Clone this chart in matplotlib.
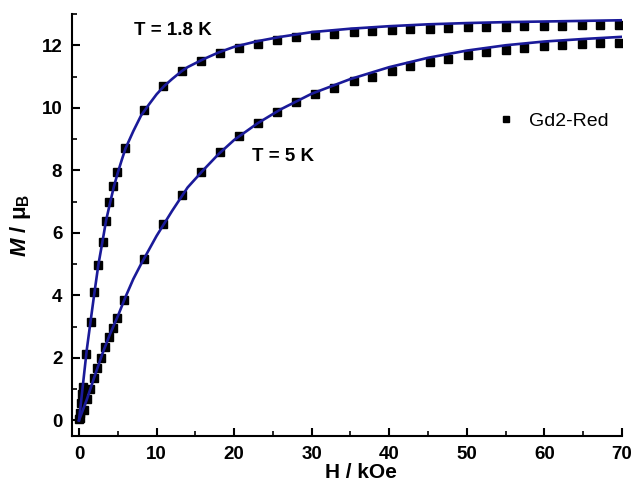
import numpy as np
import matplotlib
matplotlib.use('Agg')
import matplotlib.pyplot as plt
from matplotlib.ticker import MultipleLocator

plt.rcParams['font.family'] = 'Liberation Sans'
plt.rcParams['font.weight'] = 'bold'
plt.rcParams['mathtext.fontset'] = 'custom'
plt.rcParams['mathtext.rm'] = 'Liberation Sans:bold'
plt.rcParams['mathtext.it'] = 'Liberation Sans:italic:bold'
plt.rcParams['mathtext.bf'] = 'Liberation Sans:bold'

# measured magnetisation, T = 1.8 K  (H in kOe, M in muB)
H_18 = [0.04, 0.12, 0.25, 0.4, 0.5, 0.94, 1.51, 1.97, 2.45, 3.05, 3.48, 3.9, 4.42, 4.94,
        5.93, 8.38, 10.86, 13.23, 15.76, 18.17, 20.62, 23.03, 25.55, 27.96, 30.45,
        32.9, 35.4, 37.8, 40.3, 42.7, 45.2, 47.6, 50.1, 52.5, 55.0, 57.4, 59.9,
        62.3, 64.8, 67.2, 69.6]
M_18 = [0.05, 0.25, 0.55, 0.85, 1.08, 2.13, 3.16, 4.1, 4.98, 5.72, 6.38, 6.97, 7.5, 7.95,
        8.72, 9.94, 10.69, 11.17, 11.5, 11.75, 11.91, 12.05, 12.16, 12.25, 12.33,
        12.37, 12.41, 12.45, 12.48, 12.51, 12.53, 12.55, 12.57, 12.58, 12.6, 12.61, 12.62,
        12.63, 12.64, 12.65, 12.66]

# measured magnetisation, T = 5 K
H_5 = [0.17, 0.6, 1.03, 1.46, 1.89, 2.32, 2.84, 3.31, 3.83, 4.38, 4.9, 5.84, 8.34,
       10.86, 13.23, 15.76, 18.17, 20.62, 23.03, 25.55, 27.96, 30.45,
       32.9, 35.4, 37.8, 40.3, 42.7, 45.2, 47.6, 50.1, 52.5, 55.0, 57.4, 59.9,
       62.3, 64.8, 67.2, 69.6]
M_5 = [0.07, 0.34, 0.68, 1.01, 1.37, 1.69, 2.01, 2.34, 2.66, 2.97, 3.27, 3.86, 5.16,
       6.27, 7.2, 7.95, 8.57, 9.09, 9.51, 9.87, 10.19, 10.45,
       10.64, 10.85, 11.0, 11.18, 11.33, 11.45, 11.57, 11.68, 11.77, 11.84, 11.91, 11.97,
       12.01, 12.04, 12.06, 12.08]

# fitted curves
Hfit_18 = [0, 0.5, 1, 1.5, 2, 2.5, 3, 3.5, 4, 4.5, 5, 5.5, 6, 7, 8, 9, 10, 11, 12, 13.23,
           14, 16, 18, 20, 23, 26, 30, 35, 40, 45, 50, 55, 60, 65, 70]
Mfit_18 = [0, 1.12, 2.25, 3.18, 4.1, 4.98, 5.68, 6.4, 6.95, 7.48, 7.92, 8.32, 8.7, 9.25,
           9.75, 10.1, 10.43, 10.7, 10.92, 11.17, 11.3, 11.55, 11.77, 11.95, 12.13, 12.27,
           12.42, 12.53, 12.61, 12.67, 12.71, 12.74, 12.76, 12.78, 12.8]
Hfit_5 = [0, 1, 2, 3, 4, 5, 6, 7, 8, 9, 10, 12, 14, 16, 18, 20, 23, 26, 30, 35, 40, 45,
          50, 55, 60, 65, 70]
Mfit_5 = [0, 0.66, 1.4, 2.12, 2.76, 3.33, 3.95, 4.52, 5.0, 5.45, 5.9, 6.7, 7.45, 8.0,
          8.52, 8.97, 9.5, 9.95, 10.45, 10.92, 11.3, 11.6, 11.83, 12.0, 12.12, 12.2, 12.27]

fig = plt.figure(figsize=(6.35, 4.86), dpi=100)
ax = fig.add_axes([72/635, 50/486, 550/635, 422/486])

line_col = '#1a1a99'
ax.plot(H_18, M_18, 's', color='k', ms=6.3, zorder=2, label='Gd2-Red')
ax.plot(H_5, M_5, 's', color='k', ms=6.3, zorder=2)
ax.plot(Hfit_18, Mfit_18, '-', color=line_col, lw=1.9, zorder=3)
ax.plot(Hfit_5, Mfit_5, '-', color=line_col, lw=1.9, zorder=3)

ax.set_xlim(-0.9, 70)
ax.set_ylim(-0.5, 13.0)
ax.xaxis.set_major_locator(MultipleLocator(10))
ax.xaxis.set_minor_locator(MultipleLocator(5))
ax.yaxis.set_major_locator(MultipleLocator(2))
ax.yaxis.set_minor_locator(MultipleLocator(1))

for s in ['top', 'right']:
    ax.spines[s].set_visible(False)
for s in ['left', 'bottom']:
    ax.spines[s].set_linewidth(1.5)

ax.tick_params(which='major', direction='in', length=6, width=1.5, labelsize=13.5)
ax.tick_params(axis='y', which='major', pad=7)
ax.tick_params(axis='x', which='major', pad=7)
ax.tick_params(which='minor', direction='in', length=3.5, width=1.2)

ax.set_xlabel('H / kOe', fontsize=15, fontweight='bold')
ax.xaxis.set_label_coords(0.525, -0.065)
ax.set_ylabel(r'$M$ / μ$_\mathrm{B}$', fontsize=16, fontweight='bold')
ax.yaxis.set_label_coords(-0.07, 0.5)

ax.text(12.1, 12.46, 'T = 1.8 K', fontsize=13.5, fontweight='bold', ha='center', va='center')
ax.text(26.3, 8.43, 'T = 5 K', fontsize=13.5, fontweight='bold', ha='center', va='center')

leg = ax.legend(loc='center left', bbox_to_anchor=(0.771, 0.746), frameon=False,
                handlelength=1, handletextpad=0.7, borderpad=0, borderaxespad=0,
                prop={'weight': 'normal', 'size': 14}, markerscale=0.75)

fig.savefig('out.png', dpi=100)
